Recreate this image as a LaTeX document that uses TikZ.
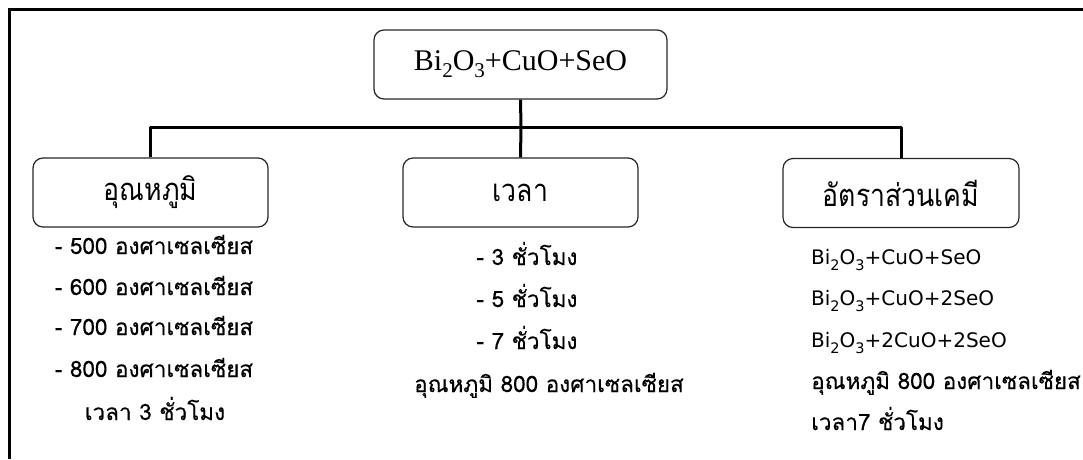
\documentclass[tikz,border=0pt]{standalone}
\usepackage{fontspec}
\setmainfont{Liberation Serif}
\newfontfamily\thaihead[Script=Thai,FakeStretch=0.86]{Loma}
\newfontfamily\thaiitem[Script=Thai,FakeBold=0.3]{Loma}
\newfontfamily\latinitem{DejaVu Sans}
\newcommand\subA[1]{\raisebox{-7pt}{\fontsize{21}{24}\selectfont #1}}
\newcommand\subB[1]{\raisebox{-6pt}{\fontsize{14.5}{17}\selectfont #1}}
\tikzset{
  conn/.style={line width=3pt, line join=round},
  frame/.style={line width=3pt},
  boxnode/.style={draw=black!85, line width=1.2pt, rounded corners=10pt, minimum height=69pt, minimum width=235pt, inner sep=0pt},
  headtext/.style={font=\thaihead\fontsize{31}{34}\selectfont},
  item/.style={font=\thaiitem\fontsize{22.5}{25}\selectfont, inner sep=0pt},
  formula/.style={font=\latinitem\fontsize{20}{24}\selectfont, inner sep=0pt},
}
\begin{document}
\begin{tikzpicture}[x=1pt,y=-1pt]
\useasboundingbox (0,0) rectangle (1083,459);
\draw[frame] (9,459) -- (9,9) -- (1083,9);

\node[boxnode, minimum width=293pt, font=\fontsize{30}{34}\selectfont] (top) at (520.5,64.5) {Bi\subA{2}O\subA{3}+CuO+SeO};
\node[boxnode, headtext] (L) at (150.5,192.5) {อุณหภูมิ};
\node[boxnode, headtext] (M) at (520.5,192.5) {เวลา};
\node[boxnode, headtext, minimum width=236pt] (R) at (901,193) {อัตราส่วนเคมี};

\coordinate (j) at (521,127);
\draw[conn] (top.south) -- (j);
\draw[conn] (L.north) |- (j) -| (R.north);
\draw[conn] (j) -- (M.north);

\node[item, anchor=base] (l1) at (154,254) {- 500 องศาเซลเซียส};
\node[item, anchor=base] (l2) at (154,295) {- 600 องศาเซลเซียส};
\node[item, anchor=base] (l3) at (154,335) {- 700 องศาเซลเซียส};
\node[item, anchor=base] (l4) at (154,377) {- 800 องศาเซลเซียส};
\node[item, anchor=base] (l5) at (155,420) {เวลา 3 ชั่วโมง};

\node[item, anchor=base] (m1) at (527,265) {- 3 ชั่วโมง};
\node[item, anchor=base] (m2) at (527,307) {- 5 ชั่วโมง};
\node[item, anchor=base] (m3) at (527,349) {- 7 ชั่วโมง};
\node[item, anchor=base] (m4) at (549,392) {อุณหภูมิ 800 องศาเซลเซียส};

\node[formula, anchor=base west] (r1) at (811,264) {Bi\subB{2}O\subB{3}+CuO+SeO};
\node[formula, anchor=base west] (r2) at (811,305) {Bi\subB{2}O\subB{3}+CuO+2SeO};
\node[formula, anchor=base west] (r3) at (811,347) {Bi\subB{2}O\subB{3}+2CuO+2SeO};
\node[item, anchor=base west] (r4) at (811,389) {อุณหภูมิ 800 องศาเซลเซียส};
\node[item, anchor=base west] (r5) at (811,430) {เวลา7 ชั่วโมง};
\end{tikzpicture}
\end{document}
